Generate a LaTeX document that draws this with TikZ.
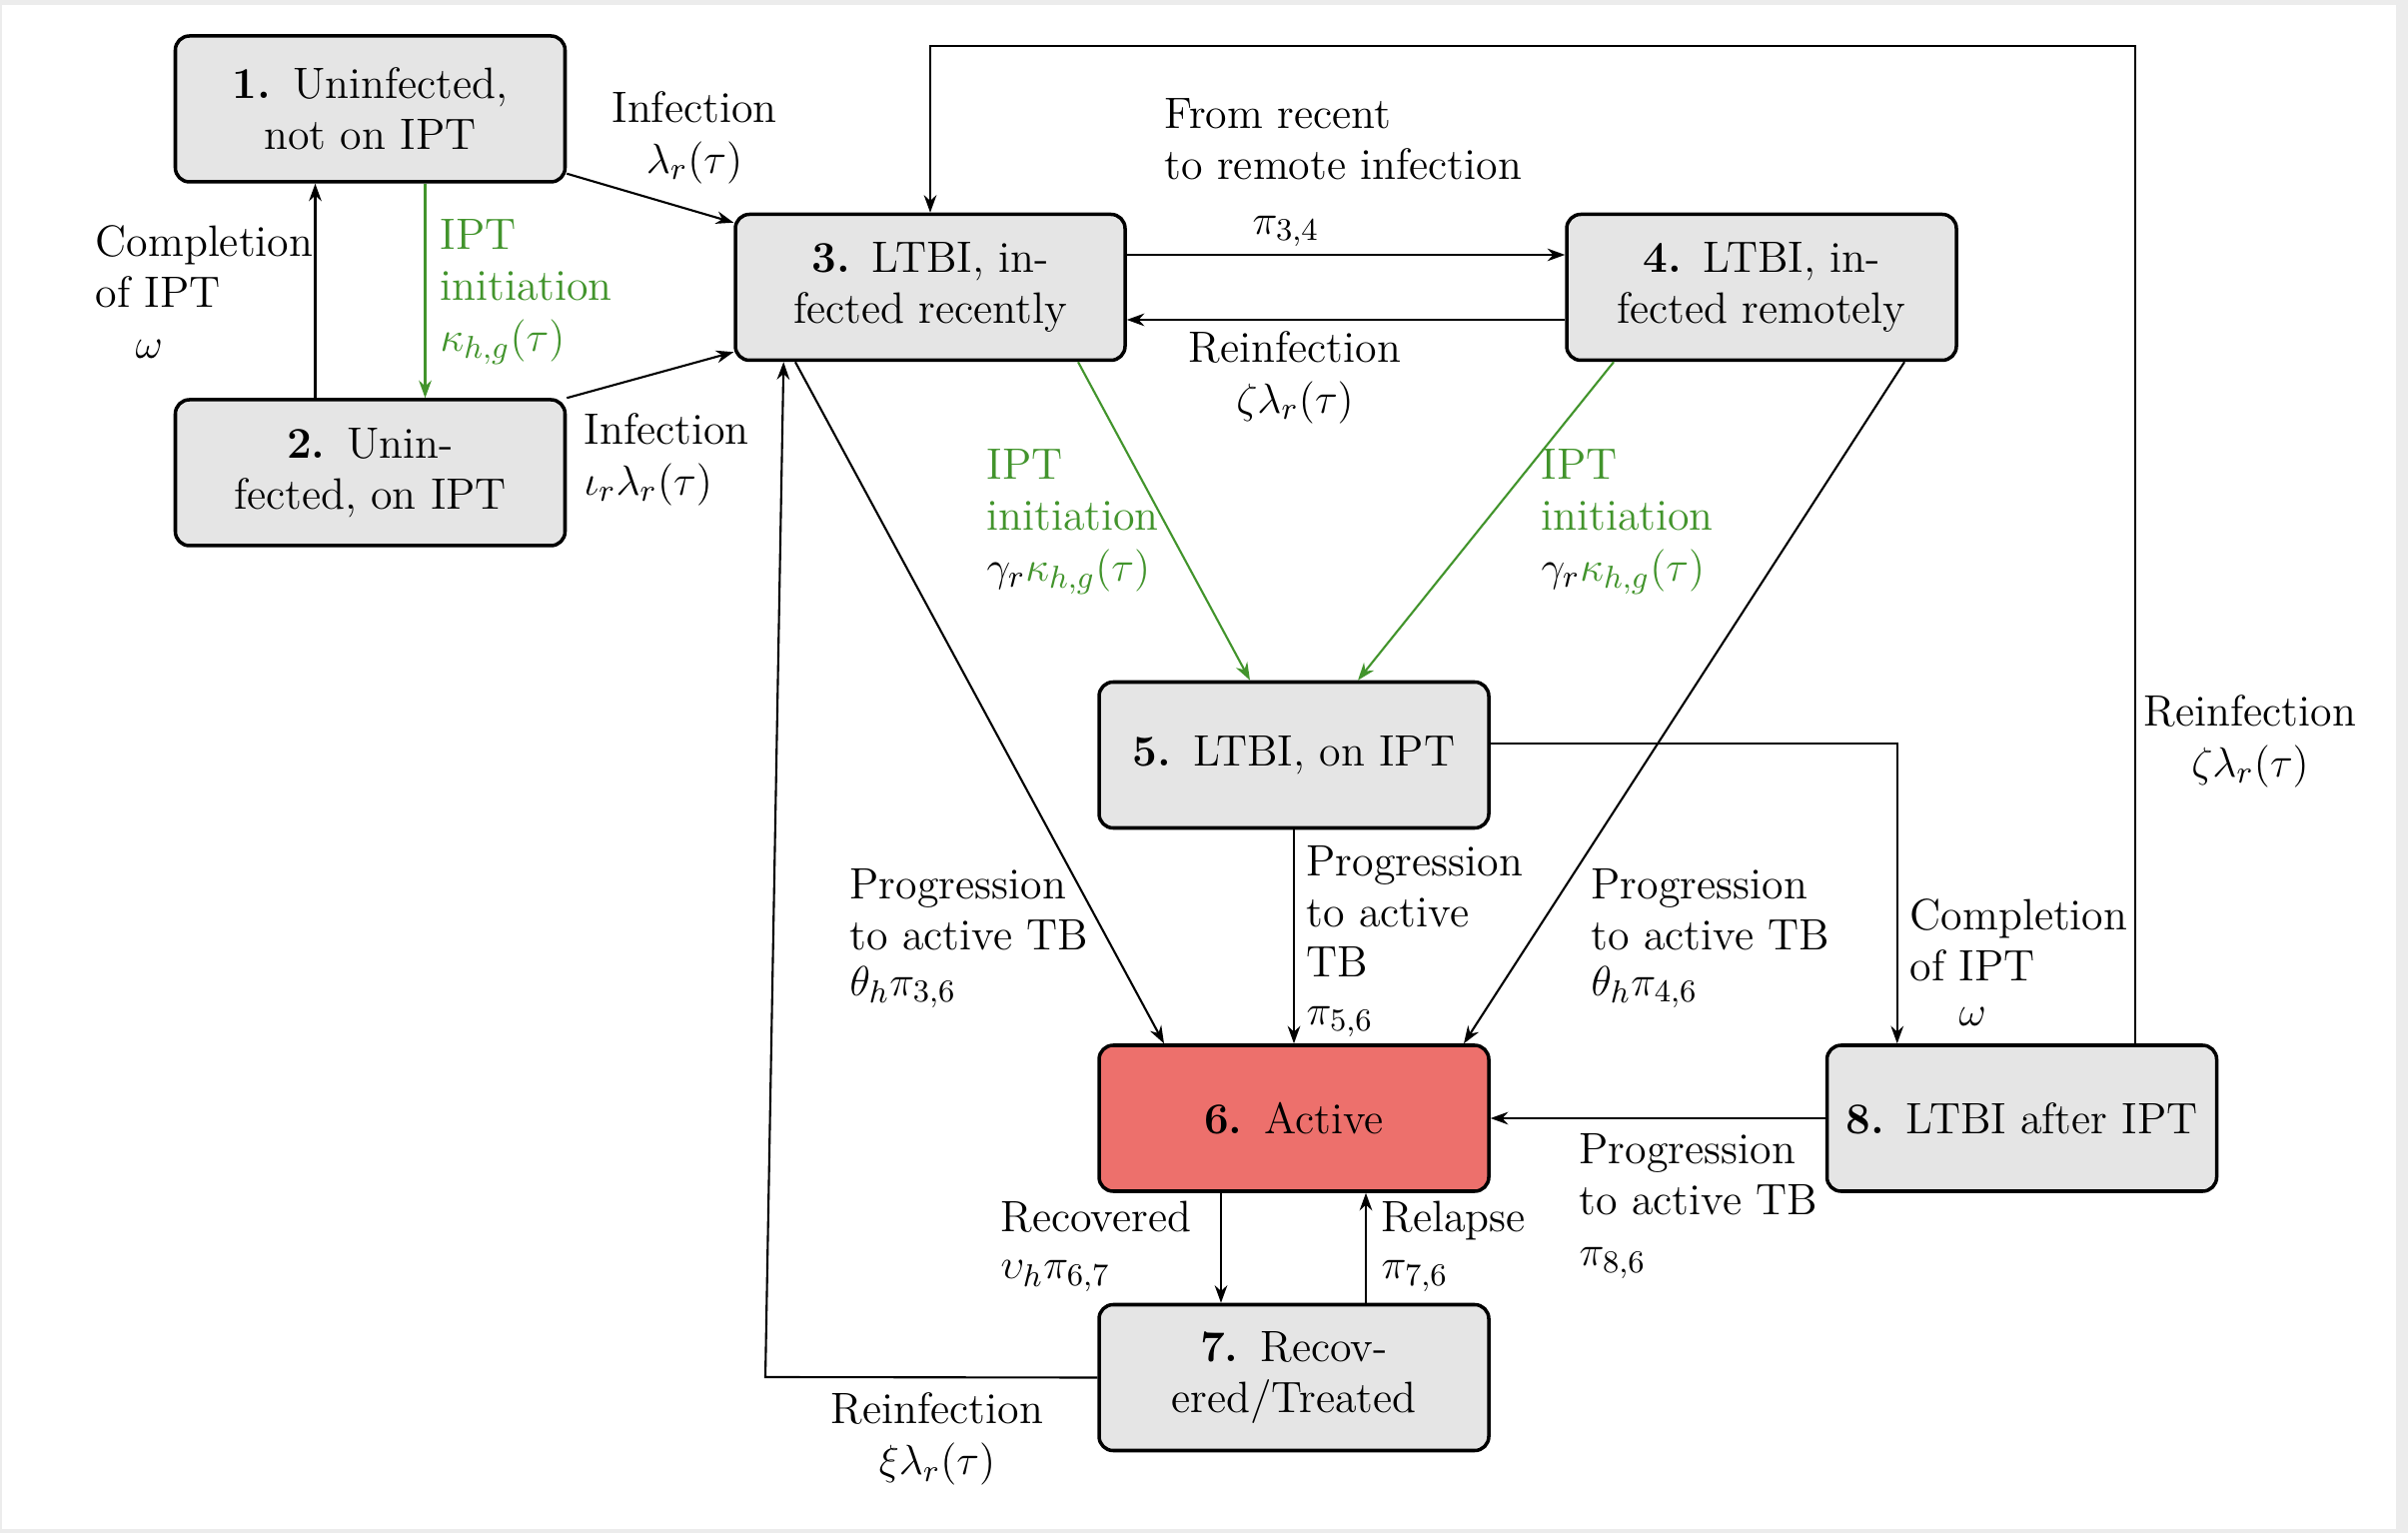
\documentclass[12pt,tikz,border=0pt]{standalone}
\usepackage{amsmath}
\usepackage{xcolor}
\usepackage{tikz}
\usetikzlibrary{arrows.meta,positioning,calc}
\definecolor{iptGreen}{RGB}{66,148,44}
\definecolor{activeRed}{RGB}{237,112,108}
\definecolor{boxGray}{RGB}{229,229,229}
\definecolor{frameGray}{RGB}{236,236,236}
\newcommand{\stnum}[1]{\textbf{#1.}\hspace{0.5em}}

\begin{document}
\begin{tikzpicture}[font=\fontsize{12.5}{14.5}\selectfont,
  state/.style={draw, line width=1pt, rounded corners=4pt, fill=boxGray, minimum width=3.9cm, minimum height=1.46cm, align=center, inner sep=2pt},
  arr/.style={-{Stealth[length=5pt,width=3.6pt]}, line width=0.6pt},
  iptarr/.style={arr, iptGreen},
  lbl/.style={inner sep=0pt, align=left, anchor=west},
  clbl/.style={inner sep=0pt, align=center}]
\fill[frameGray] (0,0) rectangle (24.1,-15.34);
\fill[white] (0.02,-0.05) rectangle (23.98,-15.30);

\node[state] (n1) at (3.705,-1.09) {\stnum{1}Uninfected,\\not on IPT};
\node[state] (n2) at (3.705,-4.73) {\stnum{2}Unin-\\fected, on IPT};
\node[state] (n3) at (9.31,-2.875) {\stnum{3}LTBI, in-\\fected recently};
\node[state] (n4) at (17.63,-2.875) {\stnum{4}LTBI, in-\\fected remotely};
\node[state] (n5) at (12.95,-7.555) {\stnum{5}LTBI, on IPT};
\node[state, fill=activeRed] (n6) at (12.95,-11.19) {\stnum{6}Active};
\node[state] (n7) at (12.95,-13.785) {\stnum{7}Recov-\\ered/Treated};
\node[state] (n8) at (20.235,-11.19) {\stnum{8}LTBI after IPT};
\coordinate (topR) at (21.37,-0.46);
\coordinate (lowL) at (7.66,-13.78);

\draw[arr] ([yshift=1mm]n1.south east) -- ([yshift=-1mm]n3.north west);
\draw[arr] (n2.north east) -- ([yshift=1mm]n3.south west);
\draw[arr] ([xshift=-5.5mm]n2.north) -- ([xshift=-5.5mm]n1.south);
\draw[iptarr] ([xshift=5.5mm]n1.south) -- ([xshift=5.5mm]n2.north);
\draw[arr] ([yshift=3.25mm]n3.east) -- ([yshift=3.25mm]n4.west);
\draw[arr] ([yshift=-3.25mm]n4.west) -- ([yshift=-3.25mm]n3.east);
\draw[iptarr] ([xshift=14.8mm]n3.south) -- ([xshift=-4.4mm]n5.north);
\draw[iptarr] ([xshift=-14.8mm]n4.south) -- ([xshift=6.4mm]n5.north);
\draw[arr] ([xshift=-13.5mm]n3.south) -- ([xshift=-13mm]n6.north);
\draw[arr] ([xshift=14.3mm]n4.south) -- ([xshift=17mm]n6.north);
\draw[arr] (n5.south) -- (n6.north);
\draw[arr] ([yshift=1.15mm]n5.east) -| ([xshift=7.2mm]n8.north west);
\draw[arr] (n8.west) -- (n6.east);
\draw[arr] (n8.north -| topR) -- (topR) -| (n3.north);
\draw[arr] (n7.west) -- (lowL) -- ([xshift=5mm]n3.south west);
\draw[arr] ([xshift=-7.3mm]n6.south) -- ([xshift=-7.3mm]n7.north);
\draw[arr] ([xshift=7.2mm]n7.north) -- ([xshift=7.2mm]n6.south);

\node[clbl] (l13a) at (6.95,-1.38) {Infection\\$\lambda_r(\tau)$};
\node[lbl] (l23) at (5.84,-4.60) {Infection\\$\iota_r\lambda_r(\tau)$};
\node[lbl] (l21) at (0.95,-2.92) {Completion\\of IPT\\\hspace*{0.4cm}$\omega$};
\node[lbl, text=iptGreen] (l12) at (4.40,-2.92) {IPT\\initiation\\$\kappa_{h,g}(\tau)$};
\node[lbl] (l34) at (11.65,-1.73) {From recent\\to remote infection\\[1pt]\hspace*{0.88cm}$\pi_{3,4}$};
\node[clbl] (l43) at (12.96,-3.78) {Reinfection\\$\zeta\lambda_r(\tau)$};
\node[lbl, text=iptGreen] (l35) at (9.87,-5.22) {IPT\\initiation\\$\textcolor{black}{\gamma_r}\kappa_{h,g}(\tau)$};
\node[lbl, text=iptGreen] (l45) at (15.42,-5.22) {IPT\\initiation\\$\textcolor{black}{\gamma_r}\kappa_{h,g}(\tau)$};
\node[lbl] (l36) at (8.50,-9.39) {Progression\\to active TB\\[-1.5pt]$\theta_h\pi_{3,6}$};
\node[lbl] (l56) at (13.07,-9.42) {Progression\\to active\\TB\\[-1pt]$\pi_{5,6}$};
\node[lbl] (l46) at (15.92,-9.39) {Progression\\to active TB\\[-1.5pt]$\theta_h\pi_{4,6}$};
\node[lbl] (l58) at (19.11,-9.63) {Completion\\of IPT\\[-1.5pt]\hspace*{0.49cm}$\omega$};
\node[clbl] (l83) at (22.52,-7.42) {Reinfection\\$\zeta\lambda_r(\tau)$};
\node[lbl] (l86) at (15.80,-12.07) {Progression\\to active TB\\$\pi_{8,6}$};
\node[lbl] (l67) at (10.01,-12.47) {Recovered\\[-1pt]$\upsilon_h\pi_{6,7}$};
\node[lbl] (l76) at (13.82,-12.47) {Relapse\\[-1pt]$\pi_{7,6}$};
\node[clbl] (l73) at (9.38,-14.40) {Reinfection\\$\xi\lambda_r(\tau)$};
\end{tikzpicture}
\end{document}
